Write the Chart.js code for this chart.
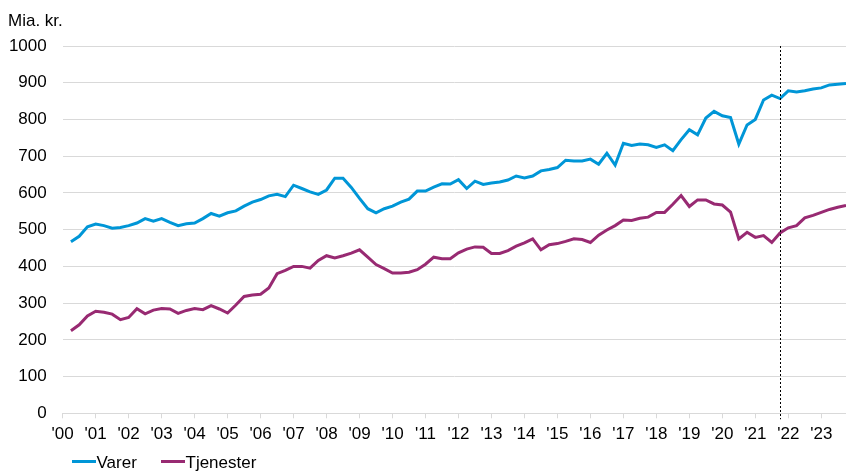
<!DOCTYPE html>
<html><head><meta charset="utf-8">
<script src="https://cdn.jsdelivr.net/npm/chart.js@4/dist/chart.umd.min.js"></script>
<style>
html,body{margin:0;padding:0;background:#fff;}
#wrap{position:relative;width:846px;height:472px;font-family:"Liberation Sans",Arial,sans-serif;color:#000;overflow:hidden;}
canvas{position:absolute;left:0;top:0;}
.txt{position:absolute;font-size:17px;line-height:20px;white-space:nowrap;}
.sw{position:absolute;width:24px;height:3px;}
</style></head><body>
<div id="wrap"><canvas id="c" width="846" height="472"></canvas></div>
<script>
// ---- data ----
const unitLabel = 'Mia. kr.';
const quarters = [
 '2000K1','2000K2','2000K3','2000K4','2001K1','2001K2','2001K3','2001K4',
 '2002K1','2002K2','2002K3','2002K4','2003K1','2003K2','2003K3','2003K4',
 '2004K1','2004K2','2004K3','2004K4','2005K1','2005K2','2005K3','2005K4',
 '2006K1','2006K2','2006K3','2006K4','2007K1','2007K2','2007K3','2007K4',
 '2008K1','2008K2','2008K3','2008K4','2009K1','2009K2','2009K3','2009K4',
 '2010K1','2010K2','2010K3','2010K4','2011K1','2011K2','2011K3','2011K4',
 '2012K1','2012K2','2012K3','2012K4','2013K1','2013K2','2013K3','2013K4',
 '2014K1','2014K2','2014K3','2014K4','2015K1','2015K2','2015K3','2015K4',
 '2016K1','2016K2','2016K3','2016K4','2017K1','2017K2','2017K3','2017K4',
 '2018K1','2018K2','2018K3','2018K4','2019K1','2019K2','2019K3','2019K4',
 '2020K1','2020K2','2020K3','2020K4','2021K1','2021K2','2021K3','2021K4',
 '2022K1','2022K2','2022K3','2022K4','2023K1','2023K2','2023K3'
];
const varer = [
 467,482,508,515, 511,504,506,511, 518,530,523,530, 520,511,516,518,
 530,544,537,546, 551,564,575,582, 592,596,590,621, 612,603,596,608,
 640,640,615,585, 557,546,557,564, 575,583,605,605, 616,625,624,636,
 612,632,623,627, 630,635,646,641, 646,660,664,669, 689,687,687,692,
 678,708,676,735, 729,733,731,724, 731,715,745,772, 758,804,822,810,
 805,733,785,800, 853,866,857,878, 875,878,883,886, 894,896,898
];
const tjenester = [
 225,241,265,278, 275,270,255,261, 285,271,281,285, 284,272,280,285,
 282,293,284,273, 295,318,322,324, 341,380,389,400, 400,395,416,429,
 423,429,436,445, 425,405,394,382, 382,384,391,406, 425,421,421,437,
 447,453,452,435, 435,443,455,464, 475,445,459,462, 468,475,473,465,
 485,499,511,526, 525,531,534,547, 547,569,593,563, 581,581,570,567,
 548,475,493,479, 484,465,491,505, 511,532,539,547, 555,561,566
];
const seriesNames = ['Varer', 'Tjenester'];
const seriesColors = ['#0096d7', '#982a72'];
const lastActual = '2021K3';
const tickYears = [2000,2001,2002,2003,2004,2005,2006,2007,2008,2009,2010,2011,
                   2012,2013,2014,2015,2016,2017,2018,2019,2020,2021,2022,2023];
const tickLabels = ["'00","'01","'02","'03","'04","'05","'06","'07","'08","'09","'10","'11",
                    "'12","'13","'14","'15","'16","'17","'18","'19","'20","'21","'22","'23"];
const yTicks = [0,100,200,300,400,500,600,700,800,900,1000];

// ---- helpers ----
const FONT = '"Liberation Sans", Arial, sans-serif';
// quarter label -> position on the time axis (end of the quarter)
const qPos = q => +q.slice(0,4) + (+q.slice(5)) / 4;
const toPoints = vals => vals.map((v,i) => ({x: qPos(quarters[i]), y: v}));

const markerPlugin = {
  id: 'marker',
  afterDatasetsDraw(chart) {
    const ctx = chart.ctx, xs = chart.scales.x, area = chart.chartArea;
    const x = Math.round(xs.getPixelForValue(qPos(lastActual))) + 0.5;
    ctx.save();
    ctx.beginPath();
    ctx.setLineDash([2,2]);
    ctx.strokeStyle = '#000';
    ctx.lineWidth = 1;
    ctx.moveTo(x, area.top);
    ctx.lineTo(x, area.bottom + 6);
    ctx.stroke();
    ctx.restore();
  }
};

new Chart(document.getElementById('c'), {
  type: 'line',
  data: {
    datasets: [
      {label: seriesNames[0], data: toPoints(varer), borderColor: seriesColors[0], backgroundColor: seriesColors[0],
       borderWidth: 3, pointRadius: 0, tension: 0, fill: false},
      {label: seriesNames[1], data: toPoints(tjenester), borderColor: seriesColors[1], backgroundColor: seriesColors[1],
       borderWidth: 3, pointRadius: 0, tension: 0, fill: false}
    ]
  },
  options: {
    responsive: false,
    animation: false,
    devicePixelRatio: 1,
    layout: {padding: {top: 46, right: 0, bottom: 0, left: 0}},
    plugins: {legend: {display: false}, tooltip: {enabled: false}},
    scales: {
      x: {
        type: 'linear', min: 2000, max: 2023.75,
        afterBuildTicks: s => { s.ticks = tickYears.map(v => ({value: v})); },
        afterFit: s => { s.height = 58.7; },
        grid: {display: true, drawOnChartArea: false, drawTicks: true, tickLength: 5, color: '#d9d9d9', lineWidth: 1},
        border: {display: true, color: '#d9d9d9', width: 1},
        ticks: {
          autoSkip: false, maxRotation: 0, padding: 6, color: '#000',
          font: {size: 17, family: FONT},
          callback: v => tickLabels[tickYears.indexOf(v)]
        }
      },
      y: {
        min: 0, max: 1000,
        afterBuildTicks: s => { s.ticks = yTicks.map(v => ({value: v})); },
        afterFit: s => { s.width = 62.7; },
        grid: {color: '#d9d9d9', lineWidth: 1, drawTicks: false},
        border: {display: false},
        ticks: {padding: 16, color: '#000', font: {size: 17, family: FONT},
                callback: v => String(v)}
      }
    }
  },
  plugins: [markerPlugin]
});

// ---- unit label and legend (HTML text) ----
const wrap = document.getElementById('wrap');
function addText(t, left, top) {
  const d = document.createElement('div');
  d.className = 'txt'; d.textContent = t;
  d.style.left = left + 'px'; d.style.top = top + 'px';
  wrap.appendChild(d);
}
addText(unitLabel, 8, 11.4);
const legendLeft = [72, 161];
seriesNames.forEach((n, i) => {
  const sw = document.createElement('div');
  sw.className = 'sw';
  sw.style.left = legendLeft[i] + 'px';
  sw.style.top = '459.5px';
  sw.style.background = seriesColors[i];
  wrap.appendChild(sw);
  addText(n, legendLeft[i] + 24.5, 453.4);
});
</script>
</body></html>
